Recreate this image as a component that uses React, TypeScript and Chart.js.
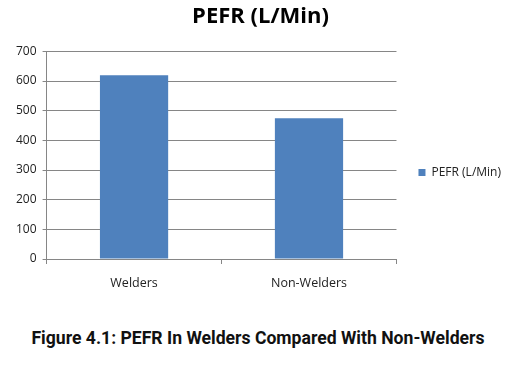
import React, { useEffect, useRef } from "react";
import { Chart, registerables } from "chart.js";

Chart.register(...registerables);

const categories = ["Welders", "Non-Welders"];
const seriesName = "PEFR (L/Min)";
const seriesValues = [620, 475];
const chartTitle = "PEFR (L/Min)";
const caption = "Figure 4.1: PEFR In Welders Compared With Non-Welders";

export default function App() {
  const ref = useRef<HTMLCanvasElement | null>(null);
  useEffect(() => {
    if (!ref.current) return;
    const chart = new Chart(ref.current, {
      type: "bar",
      data: {
        labels: categories,
        datasets: [
          {
            label: seriesName,
            data: seriesValues,
            backgroundColor: "#4F81BD",
            borderWidth: 0,
            categoryPercentage: 0.39,
            barPercentage: 1,
          },
        ],
      },
      options: {
        responsive: false,
        animation: false,
        layout: { padding: { left: 10, right: 5, top: 0, bottom: 0 } },
        plugins: {
          title: {
            display: true,
            text: chartTitle,
            color: "#000",
            font: { family: "Open Sans", size: 22, weight: "bold" },
            padding: { top: 4, bottom: 21 },
          },
          legend: {
            display: true,
            position: "right",
            title: {
              display: true,
              text: " ",
              font: { family: "Open Sans", size: 11 },
              padding: { top: 0, bottom: 29 },
            },
            labels: {
              boxWidth: 7,
              boxHeight: 7,
              color: "#222",
              font: { family: "Open Sans", size: 12 },
              padding: 22,
            },
          },
          tooltip: { enabled: false },
        },
        scales: {
          x: {
            grid: {
              display: true,
              drawOnChartArea: false,
              drawTicks: true,
              tickLength: 5,
              offset: true,
              color: "#868686",
            },
            border: { display: true, color: "#868686" },
            ticks: {
              color: "#222",
              font: { family: "Open Sans", size: 12.5 },
              padding: 12,
            },
          },
          y: {
            min: 0,
            max: 700,
            ticks: {
              stepSize: 100,
              color: "#222",
              font: { family: "Open Sans", size: 12 },
              padding: 6,
            },
            grid: {
              color: "#868686",
              tickLength: 4,
            },
            border: { display: true, color: "#868686" },
          },
        },
      },
    });
    return () => chart.destroy();
  }, []);
  return (
    <div style={{ position: "fixed", left: 0, top: 0, width: 516, height: 365, background: "#fff" }}>
      <canvas ref={ref} width={516} height={303} style={{ position: "absolute", left: 0, top: 0 }} />
      <div
        style={{
          position: "absolute",
          left: 0,
          width: 516,
          top: 328,
          textAlign: "center",
          fontFamily: "Roboto",
          fontWeight: "bold",
          fontSize: 17.6,
          color: "#111",
        }}
      >
        {caption}
      </div>
    </div>
  );
}
